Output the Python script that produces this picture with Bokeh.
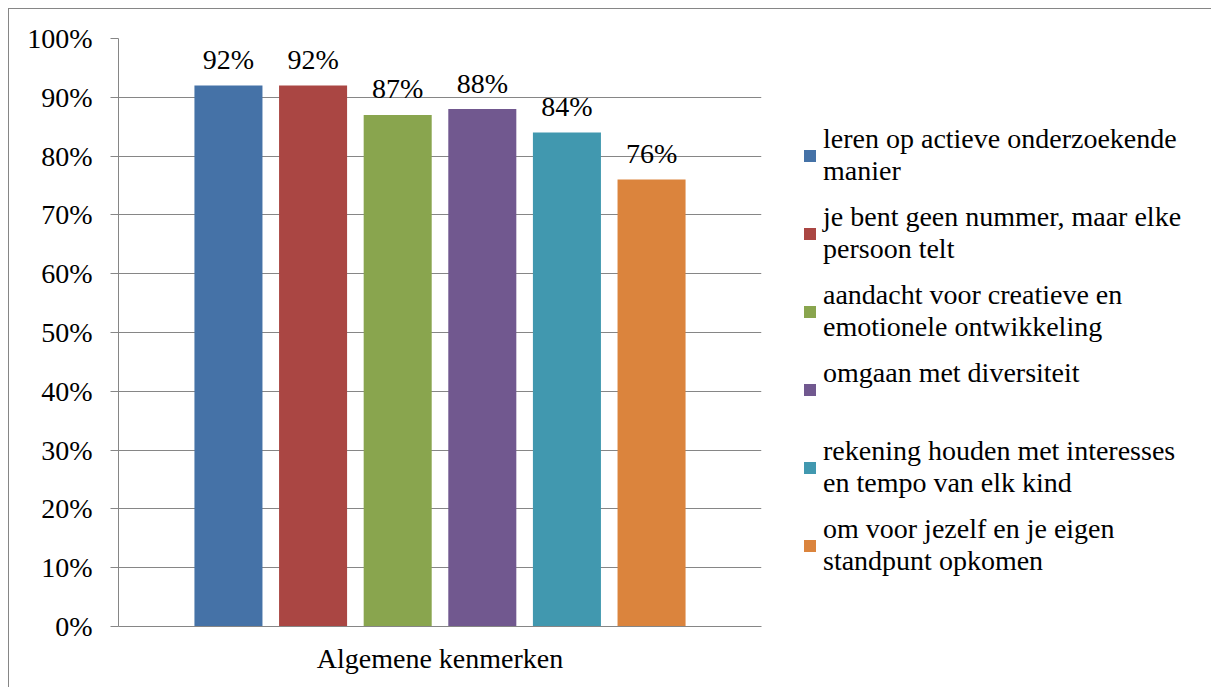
from bokeh.plotting import figure
from bokeh.models import (FactorRange, Range1d, Legend, LegendItem, ColumnDataSource,
                          NumeralTickFormatter, FixedTicker)
from bokeh.transform import dodge
from bokeh.embed import file_html
from bokeh.resources import INLINE
from bokeh.core.properties import value

category = "Algemene kenmerken"
series_lines = [
    ["leren op actieve onderzoekende", "manier"],
    ["je bent geen nummer, maar elke", "persoon telt"],
    ["aandacht voor creatieve en", "emotionele ontwikkeling"],
    ["omgaan met diversiteit", " "],
    ["rekening houden met interesses", "en tempo van elk kind"],
    ["om voor jezelf en je eigen", "standpunt opkomen"],
]
values = [0.92, 0.92, 0.87, 0.88, 0.84, 0.76]
value_labels = ["92%", "92%", "87%", "88%", "84%", "76%"]
colors = ["#4572A7", "#AA4643", "#89A54E", "#71588F", "#4198AF", "#DB843D"]
y_ticks = [0, 0.1, 0.2, 0.3, 0.4, 0.5, 0.6, 0.7, 0.8, 0.9, 1.0]

FONT = "Liberation Serif"
GRAY = "#868686"

p = figure(x_range=FactorRange(category), y_range=Range1d(0, 1),
           frame_width=643, frame_height=588,
           min_border_left=109, min_border_right=30,
           min_border_top=29, min_border_bottom=61,
           output_backend="svg", toolbar_location=None)
p.styles = {"margin-left": "8px", "margin-top": "8px",
            "border-left": "1px solid " + GRAY, "border-top": "1px solid " + GRAY}
p.outline_line_color = None
p.background_fill_color = "white"
p.border_fill_color = "white"

bar_w = 0.1058
step = 0.1316
items = []
n = len(values)
for i in range(n):
    src = ColumnDataSource(dict(cat=[category], val=[values[i]], lab=[value_labels[i]]))
    off = (i - (n - 1) / 2) * step
    r = p.vbar(x=dodge("cat", off, range=p.x_range), top="val", width=bar_w,
               source=src, fill_color=colors[i], line_color=None)
    p.text(x=dodge("cat", off, range=p.x_range), y="val", text="lab", source=src,
           text_font=value(FONT), text_font_size="28px", text_color="black",
           text_align="center", text_baseline="alphabetic", y_offset=-26)
    items.append(LegendItem(label="\n".join(series_lines[i]), renderers=[r]))

legend = Legend(items=items, location=(41, 49), padding=0, margin=0,
                border_line_color=None, background_fill_alpha=0,
                glyph_width=15, glyph_height=15, label_standoff=6,
                label_text_font=FONT, label_text_font_size="28px",
                spacing=14, label_text_color="black")
p.add_layout(legend, "right")

p.xgrid.grid_line_color = None
p.ygrid.grid_line_color = GRAY
p.ygrid.grid_line_width = 1

p.yaxis.ticker = FixedTicker(ticks=y_ticks)
p.yaxis.formatter = NumeralTickFormatter(format="0%")
p.yaxis.axis_line_color = GRAY
p.yaxis.major_tick_line_color = GRAY
p.yaxis.major_tick_in = 0
p.yaxis.major_tick_out = 8
p.yaxis.minor_tick_line_color = None
p.yaxis.major_label_standoff = 18
p.yaxis.major_label_text_font = FONT
p.yaxis.major_label_text_font_size = "28px"
p.yaxis.major_label_text_color = "black"

p.xaxis.axis_line_color = GRAY
p.xaxis.major_tick_line_color = None
p.xaxis.major_tick_out = 0
p.xaxis.major_tick_in = 0
p.xaxis.major_label_standoff = 16
p.xaxis.major_label_text_font = FONT
p.xaxis.major_label_text_font_size = "28px"
p.xaxis.major_label_text_color = "black"

open("out.html", "w").write(file_html(p, INLINE))
